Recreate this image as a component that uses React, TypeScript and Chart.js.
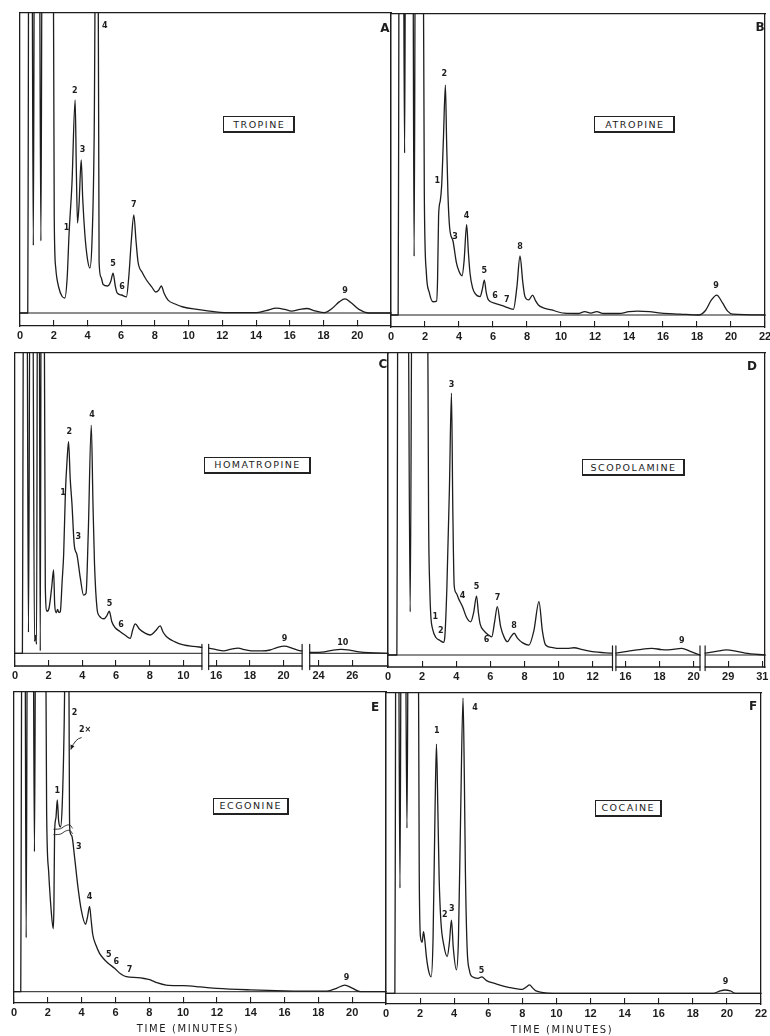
import React, { useEffect, useRef } from 'react';
import { Chart, registerables } from 'chart.js';

Chart.register(...registerables);

type Pt = [number, number];
type Lbl = [string, number, number];

// ---------------- DATA (time in minutes, signal in % of full scale) ----------------
const A_TRACE: Pt[] = [
  [0, 0], [0.46, 0], [0.49, 60], [0.52, 140], [0.7, 140], [0.79, 22.5], [0.86, 140], [1.14, 140], [1.24, 24], [1.32, 140],
  [1.96, 140], [2.03, 32], [2.12, 15], [2.3, 8.5], [2.5, 5.5], [2.66, 5], [2.8, 12], [2.91, 26.5], [3.08, 43], [3.27, 71],
  [3.34, 48], [3.41, 30], [3.5, 36], [3.63, 51], [3.72, 38], [3.85, 26], [4.0, 18], [4.14, 15], [4.27, 24], [4.4, 60],
  [4.5, 140], [4.62, 140], [4.69, 17], [4.8, 12], [4.93, 9.5], [5.2, 9], [5.38, 10.5], [5.52, 13.3], [5.65, 9], [5.76, 6.7],
  [6.02, 6], [6.31, 5.4], [6.45, 12], [6.6, 24], [6.75, 32.7], [6.88, 24], [7.0, 17], [7.25, 13.5], [7.5, 11], [7.8, 8.8],
  [8.05, 7], [8.22, 7.6], [8.38, 9], [8.55, 6.5], [8.78, 4.3], [9.2, 3], [9.67, 2], [10.5, 1.2], [11.6, 0.4], [12.5, 0.1],
  [14, 0.1], [14.6, 0.8], [15.2, 1.6], [15.7, 1.2], [16.1, 0.6], [16.6, 1.2], [17.0, 1.5], [17.5, 0.7], [18.05, 0.1],
  [18.5, 1.5], [18.95, 3.8], [19.27, 4.7], [19.6, 3.6], [20.1, 1.2], [20.7, 0], [22, 0],
];
const B_TRACE: Pt[] = [
  [0, 0], [0.42, 0], [0.45, 60], [0.48, 140], [0.72, 140], [0.8, 53.8], [0.86, 140], [1.28, 140], [1.36, 19.5], [1.44, 140],
  [1.88, 140], [1.96, 40], [2.08, 14], [2.25, 7.5], [2.47, 4.4], [2.68, 4.6], [2.74, 12], [2.8, 33], [2.9, 38], [2.98, 43],
  [3.08, 58], [3.2, 76.4], [3.27, 58], [3.35, 40], [3.45, 29], [3.65, 24.5], [3.84, 17.6], [4.0, 14.5], [4.18, 13], [4.3, 18],
  [4.45, 30], [4.55, 21], [4.65, 13.8], [4.8, 9], [4.94, 7.2], [5.24, 6.1], [5.37, 8.5], [5.49, 11.6], [5.6, 7.5], [5.73, 5],
  [6.12, 3.9], [6.7, 2.8], [7.2, 1.9], [7.4, 9], [7.59, 19.6], [7.75, 11], [7.88, 6.1], [8.1, 5], [8.33, 6.6], [8.5, 4.8],
  [8.67, 3.3], [9.45, 1.7], [10.2, 0.6], [11.0, 0.5], [11.4, 1.1], [11.75, 0.6], [12.1, 1.1], [12.5, 0.5], [13.4, 0.5],
  [14.0, 1.1], [14.5, 1.3], [15.2, 1.1], [15.9, 0.6], [17.0, 0.3], [18.1, 0], [18.5, 1.5], [18.85, 5], [19.16, 6.6],
  [19.5, 4], [19.8, 1.3], [20.1, 0.3], [22, 0],
];
const C_TRACE_1: Pt[] = [
  [0, 0], [0.44, 0], [0.47, 60], [0.51, 140], [0.7, 140], [0.8, 7], [0.9, 140], [1.04, 140], [1.16, 4], [1.22, 6], [1.28, 3],
  [1.34, 140], [1.43, 140], [1.5, 0.8], [1.56, 140], [1.72, 140], [1.8, 22], [1.9, 14], [2.02, 15], [2.18, 22], [2.29, 27.8],
  [2.36, 16], [2.45, 13.5], [2.53, 14.6], [2.6, 13.6], [2.69, 13.9], [2.8, 24], [2.89, 33], [2.99, 53], [3.1, 65], [3.18, 70.5],
  [3.28, 58], [3.38, 50], [3.52, 36], [3.68, 32.8], [3.88, 25], [4.07, 19.4], [4.22, 20], [4.35, 40], [4.53, 76], [4.63, 50],
  [4.72, 30], [4.87, 15], [5.0, 12.5], [5.3, 11.5], [5.45, 12.5], [5.6, 14], [5.75, 10.5], [5.95, 8.5], [6.25, 7.2], [6.55, 6],
  [6.84, 5], [7.0, 8], [7.14, 9.8], [7.4, 8], [7.7, 6.8], [8.03, 6.1], [8.35, 7.5], [8.62, 9.1], [8.8, 7], [9.0, 5.5],
  [9.5, 3.8], [10.0, 2.8], [10.6, 2.3], [11.1, 2],
];
const C_TRACE_2: Pt[] = [
  [15.55, 1.7], [16.0, 1.2], [16.43, 0.8], [16.9, 1.4], [17.3, 1.7], [17.7, 1.2], [18.1, 0.8], [18.7, 0.8], [19.2, 1.1],
  [19.6, 1.9], [20.06, 2.4], [20.5, 1.7], [20.94, 0.9], [21.1, 0.8],
];
const C_TRACE_3: Pt[] = [
  [23.47, 0.3], [24.2, 0.4], [24.8, 1], [25.33, 1.3], [25.9, 1], [26.4, 0.5], [27.0, 0.2], [28.12, 0],
];
const D_TRACE_1: Pt[] = [
  [0, 0], [0.52, 0], [0.55, 60], [0.58, 140], [1.16, 140], [1.3, 14.3], [1.42, 140], [2.3, 140], [2.38, 45], [2.45, 22],
  [2.51, 13], [2.62, 8.5], [2.81, 5.8], [3.05, 4.8], [3.25, 4.2], [3.33, 6], [3.45, 22], [3.6, 55], [3.72, 86.7], [3.8, 48],
  [3.88, 23], [4.0, 20.5], [4.15, 18.5], [4.37, 16], [4.6, 12.5], [4.85, 11], [5.02, 14], [5.19, 19.5], [5.3, 14], [5.4, 10.3],
  [5.63, 8], [5.85, 6.8], [6.08, 6], [6.25, 11], [6.41, 16], [6.6, 9.5], [6.8, 6], [7.0, 4.4], [7.2, 6], [7.39, 7.2],
  [7.6, 5.5], [7.9, 4], [8.26, 3.3], [8.55, 8], [8.85, 17.7], [9.05, 8], [9.24, 3.3], [9.6, 2.5], [10.0, 2.2], [10.5, 2.2],
  [10.9, 2.4], [11.4, 1.8], [11.97, 1.1], [13.16, 0.6],
];
const D_TRACE_2: Pt[] = [
  [15.44, 0.6], [16, 1.1], [16.8, 1.8], [17.56, 2.2], [18.1, 1.8], [18.5, 1.7], [19.3, 2.2], [19.8, 1.2], [20.37, 0],
];
const D_TRACE_3: Pt[] = [
  [27.65, 0.6], [28.3, 1.2], [28.9, 1.7], [29.5, 1.2], [30, 0.6], [31.16, 0],
];
const E_TRACE: Pt[] = [
  [0, 0], [0.4, 0], [0.43, 60], [0.47, 140], [0.64, 140], [0.72, 18], [0.8, 140], [1.12, 140], [1.21, 46.7], [1.29, 140],
  [1.85, 140], [1.93, 60], [2.05, 40], [2.2, 27], [2.32, 21], [2.36, 28], [2.4, 53], [2.48, 58], [2.56, 64], [2.64, 57],
  [2.75, 55], [2.85, 62], [2.97, 90], [3.06, 130], [3.1, 140], [3.22, 140], [3.28, 60], [3.31, 53.5], [3.42, 52], [3.58, 45],
  [3.78, 35], [3.98, 27.2], [4.23, 22.5], [4.35, 25], [4.47, 28.5], [4.56, 24], [4.66, 19], [4.85, 15.5], [5.06, 12.8],
  [5.3, 11], [5.55, 9.6], [5.95, 7.8], [6.3, 6], [6.64, 5], [7.3, 4.7], [7.7, 4.4], [8.02, 4], [8.2, 3.6], [8.45, 3],
  [9.0, 2.2], [10.0, 2.0], [11, 1.6], [12.0, 1.1], [14, 0.6], [16, 0.3], [18.5, 0.2], [19.1, 1.2], [19.56, 2.2], [20.0, 1.2],
  [20.5, 0], [22, 0],
];
const E_BREAK_UPPER: Pt[] = [[2.36, 54.2], [2.75, 54.4], [3.05, 55.4], [3.3, 55.6], [3.45, 54.6]];
const E_BREAK_LOWER: Pt[] = [[2.36, 52.4], [2.75, 52.6], [3.05, 53.6], [3.3, 53.8], [3.45, 52.8]];
const E_ARROW: Pt[] = [[4.0, 84.8], [3.62, 84.5], [3.36, 80.8]];
const F_TRACE: Pt[] = [
  [0, 0], [0.52, 0], [0.55, 60], [0.58, 140], [0.72, 140], [0.82, 35], [0.9, 140], [1.12, 140], [1.23, 55], [1.32, 140],
  [1.88, 140], [1.95, 40], [2.03, 18.5], [2.12, 17], [2.2, 20.5], [2.27, 18], [2.38, 11.7], [2.5, 7.5], [2.65, 5.5],
  [2.76, 18], [2.88, 62], [2.96, 83], [3.04, 62], [3.12, 38], [3.22, 24], [3.39, 16.1], [3.59, 12.2], [3.72, 17], [3.84, 24.4],
  [3.95, 15], [4.13, 7.8], [4.25, 18], [4.38, 60], [4.52, 98.3], [4.6, 70], [4.66, 40], [4.76, 15], [4.9, 7.5], [5.07, 5.5],
  [5.4, 5], [5.62, 5.5], [5.9, 4.2], [6.43, 3.2], [7.2, 2], [8.0, 1.3], [8.25, 2.2], [8.42, 2.8], [8.6, 1.8], [8.8, 0.8],
  [9.8, 0], [19.2, 0], [19.6, 0.8], [19.88, 1.1], [20.2, 0.8], [20.5, 0], [22, 0],
];

const A_PEAKS: Lbl[] = [['1', 2.76, 28.2], ['2', 3.25, 74], ['3', 3.71, 54.5], ['4', 5.03, 95.7], ['5', 5.52, 16.3], ['6', 6.05, 8.8], ['7', 6.75, 36], ['9', 19.27, 7.5]];
const B_PEAKS: Lbl[] = [['1', 2.72, 44.4], ['2', 3.14, 80], ['3', 3.76, 25.9], ['4', 4.45, 33], ['5', 5.49, 14.5], ['6', 6.12, 6.3], ['7', 6.81, 5], ['8', 7.59, 22.6], ['9', 19.12, 9.6]];
const C_PEAKS: Lbl[] = [['1', 2.85, 53.5], ['2', 3.22, 73.6], ['3', 3.76, 38.7], ['4', 4.57, 79.5], ['5', 5.61, 16.6], ['6', 6.29, 9.6], ['9', 20.06, 4.7], ['10', 25.43, 3.6]];
const D_PEAKS: Lbl[] = [['1', 2.77, 12.7], ['2', 3.1, 7.9], ['3', 3.73, 89.5], ['4', 4.37, 19.5], ['5', 5.19, 22.5], ['6', 5.78, 5.0], ['7', 6.42, 18.8], ['8', 7.39, 9.6], ['9', 19.3, 4.6]];
const E_PEAKS: Lbl[] = [['1', 2.56, 67], ['2', 3.58, 93], ['2×', 4.2, 87.2], ['3', 3.83, 48.3], ['4', 4.47, 31.5], ['5', 5.6, 12.3], ['6', 6.05, 9.8], ['7', 6.83, 7.4], ['9', 19.66, 4.5]];
const F_PEAKS: Lbl[] = [['1', 2.98, 87.5], ['2', 3.45, 26], ['3', 3.86, 28], ['4', 5.22, 95], ['5', 5.61, 7.5], ['9', 19.92, 3.8]];

const A_TICKS = [0, 2, 4, 6, 8, 10, 12, 14, 16, 18, 20];
const B_TICKS = [0, 2, 4, 6, 8, 10, 12, 14, 16, 18, 20, 22];
const C_TICKS = [0, 2, 4, 6, 8, 10, 16, 18, 20, 24, 26];
const D_TICKS = [0, 2, 4, 6, 8, 10, 12, 16, 18, 20, 29, 31];
const E_TICKS = [0, 2, 4, 6, 8, 10, 12, 14, 16, 18, 20];
const F_TICKS = [0, 2, 4, 6, 8, 10, 12, 14, 16, 18, 20, 22];

const FULL_SEG: Pt[] = [[0, 22]];
const C_SEGS: Pt[] = [[0, 11.1], [15.55, 21.1], [23.47, 28.12]];
const D_SEGS: Pt[] = [[0, 13.16], [15.44, 20.37], [27.65, 31.16]];

const PANEL_LETTERS = ['A', 'B', 'C', 'D', 'E', 'F'];
const PANEL_NAMES = ['TROPINE', 'ATROPINE', 'HOMATROPINE', 'SCOPOLAMINE', 'ECGONINE', 'COCAINE'];
const AXIS_TITLE = 'TIME (MINUTES)';

// ---------------- LAYOUT ----------------
const INK = '#1d1d1d';
const PADL = 12, PADR = 12, PADT = 4, XH = 24;
const BOXES = [
  { l: 20, t: 13, r: 391, b: 326, base: 313 },
  { l: 391, t: 14, r: 765, b: 327, base: 315 },
  { l: 15, t: 353, r: 388, b: 666, base: 653.3 },
  { l: 388, t: 353, r: 765, b: 667, base: 655 },
  { l: 14, t: 692, r: 386, b: 1003, base: 991.7 },
  { l: 386, t: 693, r: 761, b: 1004, base: 993.3 },
];
const GAPS: number[][] = [[], [], [0.4, 0.45], [0.2, 0.3], [], []];
const NAME_BOX = [
  { cx: 259, cy: 124.5, w: 72 }, { cx: 634.7, cy: 124.7, w: 81 }, { cx: 257.3, cy: 465, w: 107 },
  { cx: 633.3, cy: 467.5, w: 103 }, { cx: 250.5, cy: 806, w: 76 }, { cx: 628, cy: 808.3, w: 67 },
];
const LETTER_POS: Pt[] = [[385, 29], [760, 28], [383, 365], [752, 367], [375, 708], [753, 707]];
const TITLE_POS: Pt[] = [[188, 1030], [562, 1031]];

interface PanelDef { traces: Pt[][]; segs: Pt[]; ticks: number[]; peaks: Lbl[]; extras?: Pt[][]; arrow?: Pt[] }
const PANELS: PanelDef[] = [
  { traces: [A_TRACE], segs: FULL_SEG, ticks: A_TICKS, peaks: A_PEAKS },
  { traces: [B_TRACE], segs: FULL_SEG, ticks: B_TICKS, peaks: B_PEAKS },
  { traces: [C_TRACE_1, C_TRACE_2, C_TRACE_3], segs: C_SEGS, ticks: C_TICKS, peaks: C_PEAKS },
  { traces: [D_TRACE_1, D_TRACE_2, D_TRACE_3], segs: D_SEGS, ticks: D_TICKS, peaks: D_PEAKS },
  { traces: [E_TRACE], segs: FULL_SEG, ticks: E_TICKS, peaks: E_PEAKS, extras: [E_BREAK_UPPER, E_BREAK_LOWER], arrow: E_ARROW },
  { traces: [F_TRACE], segs: FULL_SEG, ticks: F_TICKS, peaks: F_PEAKS },
];

function makeMap(segs: Pt[], gaps: number[]) {
  const offs: number[] = [];
  let acc = 0;
  segs.forEach(([s, e], k) => { offs.push(acc); acc += e - s + (gaps[k] ?? 0); });
  const map = (t: number) => {
    for (let k = segs.length - 1; k >= 0; k--) if (t >= segs[k][0] - 1e-9) return offs[k] + (t - segs[k][0]);
    return t;
  };
  return { map, xMax: map(segs[segs.length - 1][1]) };
}

function buildConfig(i: number): any {
  const P = PANELS[i];
  const box = BOXES[i];
  const { map, xMax } = makeMap(P.segs, GAPS[i]);
  const yMin = -(box.b - box.base) / ((box.base - box.t) / 100);
  const line = (pts: Pt[], w: number, extra: any = {}) => ({
    data: pts.map(([t, v]) => ({ x: map(t), y: v })),
    borderColor: INK, borderWidth: w, pointRadius: 0, pointHoverRadius: 0, fill: false, clip: 8, ...extra,
  });
  const datasets: any[] = [];
  P.traces.forEach((tr) => datasets.push(line(tr, 1.3, { cubicInterpolationMode: 'monotone', clip: { left: 2, right: 2, top: 0, bottom: 8 } })));
  const multi = P.segs.length > 1;
  P.segs.forEach(([s, e]) => {
    datasets.push(line([[s, 0], [e, 0]], 1));
    if (multi) datasets.push(line([[s, yMin], [e, yMin]], 1.3));
  });
  for (let k = 0; k < P.segs.length - 1; k++) {
    const e = P.segs[k][1], s2 = P.segs[k + 1][0];
    datasets.push(line([[e, 3], [e, yMin - 1.2]], 1.2));
    datasets.push(line([[s2, 3], [s2, yMin - 1.2]], 1.2));
  }
  (P.extras || []).forEach((ex) => datasets.push(line(ex, 0.9, { tension: 0.4 })));

  const annot = {
    id: 'annot' + i,
    afterDatasetsDraw(chart: any) {
      const { ctx } = chart;
      const xs = chart.scales.x, ys = chart.scales.y;
      const px = (t: number) => xs.getPixelForValue(map(t));
      const py = (v: number) => ys.getPixelForValue(v);
      ctx.save();
      ctx.fillStyle = INK;
      ctx.font = 'bold 8px "DejaVu Sans", sans-serif';
      ctx.textAlign = 'center';
      ctx.textBaseline = 'middle';
      P.peaks.forEach(([txt, t, v]) => ctx.fillText(txt, px(t), py(v)));
      if (P.arrow) {
        const [a, c, h] = P.arrow;
        ctx.strokeStyle = INK;
        ctx.lineWidth = 0.9;
        ctx.beginPath();
        ctx.moveTo(px(a[0]), py(a[1]));
        ctx.quadraticCurveTo(px(c[0]), py(c[1]), px(h[0]), py(h[1]));
        ctx.stroke();
        const ang = Math.atan2(py(h[1]) - py(c[1]), px(h[0]) - px(c[0]));
        const hx = px(h[0]), hy = py(h[1]);
        ctx.beginPath();
        ctx.moveTo(hx, hy);
        ctx.lineTo(hx - 5 * Math.cos(ang - 0.45), hy - 5 * Math.sin(ang - 0.45));
        ctx.lineTo(hx - 5 * Math.cos(ang + 0.45), hy - 5 * Math.sin(ang + 0.45));
        ctx.closePath();
        ctx.fill();
      }
      ctx.restore();
    },
  };

  const frame = { display: true, color: INK, width: 1.3 };
  return {
    type: 'line',
    data: { datasets },
    options: {
      animation: false, responsive: false, maintainAspectRatio: false, devicePixelRatio: 1, events: [],
      layout: { padding: { left: PADL, right: PADR, top: PADT, bottom: 0 } },
      plugins: { legend: { display: false }, tooltip: { enabled: false } },
      elements: { line: { borderJoinStyle: 'round', borderCapStyle: 'round' } },
      scales: {
        x: {
          type: 'linear', position: 'bottom', min: 0, max: xMax,
          border: { display: !multi, color: INK, width: 1.3 },
          grid: { display: true, drawOnChartArea: false, drawTicks: true, tickLength: -6, color: INK, lineWidth: 1.1 },
          ticks: {
            autoSkip: false, maxRotation: 0, padding: 9, color: INK,
            font: { family: "'Liberation Sans', Arial, sans-serif", size: 11, weight: 'bold' },
            callback: (_v: any, k: number) => String(P.ticks[k] ?? ''),
          },
          afterBuildTicks: (s: any) => { s.ticks = P.ticks.map((t) => ({ value: map(t) })); },
          afterFit: (s: any) => { s.height = XH; s.paddingLeft = 0; s.paddingRight = 0; },
        },
        xTop: {
          type: 'linear', position: 'top', min: 0, max: xMax, border: frame,
          grid: { display: true, drawOnChartArea: false, drawTicks: false }, ticks: { display: false },
          afterFit: (s: any) => { s.height = 0; },
        },
        y: {
          type: 'linear', position: 'left', min: yMin, max: 100, border: frame,
          grid: { display: true, drawOnChartArea: false, drawTicks: false }, ticks: { display: false },
          afterFit: (s: any) => { s.width = 0; },
        },
        yR: {
          type: 'linear', position: 'right', min: yMin, max: 100, border: frame,
          grid: { display: true, drawOnChartArea: false, drawTicks: false }, ticks: { display: false },
          afterFit: (s: any) => { s.width = 0; },
        },
      },
    },
    plugins: [annot],
  };
}

function Panel({ idx }: { idx: number }) {
  const ref = useRef<HTMLCanvasElement>(null);
  useEffect(() => {
    const chart = new Chart(ref.current as HTMLCanvasElement, buildConfig(idx));
    return () => chart.destroy();
  }, [idx]);
  const b = BOXES[idx];
  const w = Math.round(b.r - b.l + PADL + PADR);
  const h = Math.round(b.b - b.t + PADT + XH);
  return (
    <canvas ref={ref} width={w} height={h}
      style={{ position: 'absolute', left: b.l - PADL, top: b.t - PADT, width: w, height: h }} />
  );
}

const TEXT_SMOOTH: any = { opacity: 0.999, WebkitFontSmoothing: 'antialiased' };

export default function App() {
  return (
    <div style={{ position: 'absolute', left: 0, top: 0, width: 770, height: 1036, background: '#fff', overflow: 'hidden' }}>
      {PANELS.map((_, i) => <Panel key={i} idx={i} />)}
      {PANEL_NAMES.map((name, i) => {
        const nb = NAME_BOX[i];
        return (
          <div key={'n' + i} style={{
            position: 'absolute', left: nb.cx - nb.w / 2, top: nb.cy - 8.5, width: nb.w, height: 17, boxSizing: 'border-box',
            border: '1px solid #222', borderRightWidth: 2, borderBottomWidth: 2, display: 'flex', alignItems: 'center',
            justifyContent: 'center', font: '9.5px "DejaVu Sans", sans-serif', letterSpacing: '1.5px', paddingLeft: 1.5,
            color: INK, background: '#fff', ...TEXT_SMOOTH,
          }}>{name}</div>
        );
      })}
      {PANEL_LETTERS.map((L, i) => (
        <div key={'l' + i} style={{
          position: 'absolute', left: LETTER_POS[i][0] - 10, top: LETTER_POS[i][1] - 8, width: 20, height: 16,
          textAlign: 'center', lineHeight: '16px', font: 'bold 12px "DejaVu Sans", sans-serif', color: INK, ...TEXT_SMOOTH,
        }}>{L}</div>
      ))}
      {TITLE_POS.map(([x, y], i) => (
        <div key={'t' + i} style={{
          position: 'absolute', left: x - 70, top: y - 7, width: 140, height: 14, textAlign: 'center', lineHeight: '14px',
          font: '10px "DejaVu Sans", sans-serif', letterSpacing: '1.6px', color: INK, ...TEXT_SMOOTH,
        }}>{AXIS_TITLE}</div>
      ))}
    </div>
  );
}
